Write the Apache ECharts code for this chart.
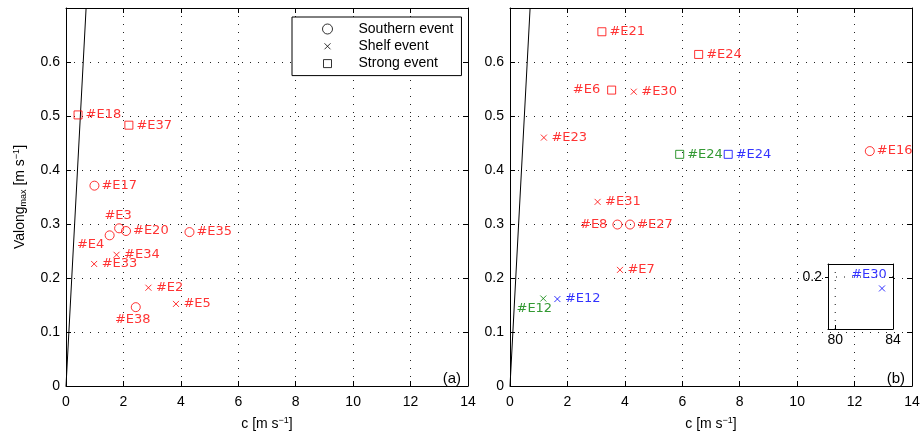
<!DOCTYPE html>
<html>
<head>
<meta charset="utf-8">
<script src="https://cdn.jsdelivr.net/npm/echarts@6/dist/echarts.min.js"></script>
<style>
  html, body { margin: 0; padding: 0; background: #fff; }
  #chart { width: 920px; height: 433px; }
</style>
</head>
<body>
<div id="chart"></div>
<script>
// ---- Panel (a): phase speed c vs. peak along-shore velocity ----
const aNames = ['#E18', '#E37', '#E17', '#E3', '#E4', '#E20', '#E35', '#E34', '#E33', '#E2', '#E5', '#E38'];
const aC     = [0.42, 2.19, 0.99, 1.85, 1.52, 2.09, 4.30, 1.76, 0.98, 2.87, 3.83, 2.43];
const aV     = [0.502, 0.483, 0.371, 0.292, 0.279, 0.287, 0.285, 0.243, 0.226, 0.182, 0.152, 0.146];
const aKind  = ['strong', 'strong', 'southern', 'southern', 'southern', 'southern', 'southern',
                'shelf', 'shelf', 'shelf', 'shelf', 'southern'];
const aSet   = ['r', 'r', 'r', 'r', 'r', 'r', 'r', 'r', 'r', 'r', 'r', 'r'];

// ---- Panel (b) ----
const bNames = ['#E21', '#E24', '#E6', '#E30', '#E23', '#E16', '#E31', '#E8', '#E27', '#E7',
                '#E24', '#E12', '#E24', '#E12'];
const bC     = [3.20, 6.57, 3.54, 4.31, 1.18, 12.53, 3.05, 3.74, 4.18, 3.83, 5.91, 1.16, 7.60, 1.65];
const bV     = [0.656, 0.614, 0.548, 0.545, 0.460, 0.435, 0.341, 0.299, 0.299, 0.215,
                0.429, 0.162, 0.429, 0.161];
const bKind  = ['strong', 'strong', 'strong', 'shelf', 'shelf', 'southern', 'shelf', 'southern',
                'southern', 'shelf', 'strong', 'shelf', 'strong', 'shelf'];
const bSet   = ['r', 'r', 'r', 'r', 'r', 'r', 'r', 'r', 'r', 'r', 'g', 'g', 'b', 'b'];

// ---- Inset of panel (b): the off-scale event ----
const insetNames = ['#E30'];
const insetC     = [83.24];
const insetV     = [0.178];
const insetKind  = ['shelf'];
const insetSet   = ['b'];
const insetCRange = [79.5, 84];
const insetVRange = [0.1, 0.225];
const insetXTicks = [80, 84];
const insetYTicks = [0.2];

// ---- Reference line V = c ----
const refC = [0, 0.7];
const refV = [0, 0.7];

// ---- Axis settings ----
const cMin = 0, cMax = 14, cStep = 2;
const vMin = 0, vMax = 0.7, vStep = 0.1;

// ---- Styling ----
const SET_COLOR = { r: '#ff0000', g: '#008000', b: '#0000ff' };
const CROSS = 'path://M0,0M2,2L8,8M8,2L2,8M10,10';
const SQUARE = 'path://M0,0M1,1H9V9H1ZM10,10';
const KIND = {
  southern: { name: 'Southern event', symbol: 'circle', size: 9 },
  shelf:    { name: 'Shelf event',    symbol: CROSS,    size: 10 },
  strong:   { name: 'Strong event',   symbol: SQUARE,   size: 10 }
};
const TICK_FONT = 'Liberation Sans, Arial, sans-serif';
const LABEL_FONT = 'DejaVu Sans, sans-serif';
const INSET_LAYER = 1;
const DOTS = { color: '#222', width: 1, type: [1, 7] };

// label placement tweaks (panel + name + colour set)
const LABEL_TWEAK = {
  'a#E3r':  { position: 'inside', offset: [-1, -13] },
  'a#E4r':  { position: 'inside', offset: [-19, 9] },
  'a#E38r': { position: 'inside', offset: [-3, 12] },
  'b#E6r':  { position: 'left', distance: 6 },
  'b#E8r':  { position: 'left', distance: 5 },
  'b#E12g': { position: 'inside', offset: [-9, 10] },
  'i#E30b': { position: 'inside', offset: [-13, -14] }
};

function pointSeries(panel, names, c, v, kinds, sets, kind, xi, yi, layer) {
  const data = [];
  for (let i = 0; i < names.length; i++) {
    if (kinds[i] !== kind) continue;
    const col = SET_COLOR[sets[i]];
    const tweak = LABEL_TWEAK[panel + names[i] + sets[i]] || {};
    data.push({
      name: names[i],
      value: [c[i], v[i]],
      itemStyle: { color: 'transparent', borderColor: col, borderWidth: 1 },
      label: Object.assign({ position: 'right', distance: 2, offset: [0, 0], color: col }, tweak)
    });
  }
  return {
    type: 'scatter',
    name: KIND[kind].name,
    xAxisIndex: xi,
    yAxisIndex: yi,
    symbol: KIND[kind].symbol,
    symbolSize: KIND[kind].size,
    zlevel: layer || 0,
    z: 3,
    silent: true,
    clip: false,
    data: data,
    label: {
      show: true,
      formatter: '{b}',
      fontFamily: LABEL_FONT,
      fontSize: 13
    }
  };
}

const nameRich = {
  t:   { fontFamily: TICK_FONT, fontSize: 14, color: '#000', lineHeight: 16, verticalAlign: 'middle' },
  sub: { fontFamily: TICK_FONT, fontSize: 9, color: '#000', lineHeight: 9, padding: [9, 0, 0, 0], verticalAlign: 'bottom' },
  sup: { fontFamily: TICK_FONT, fontSize: 9, color: '#000', lineHeight: 9, padding: [0, 0, 9, 0], verticalAlign: 'top' }
};

const grids = [
  { left: 66, top: 8, width: 402, height: 378, outerBoundsMode: 'none', containLabel: false },
  { left: 510, top: 8, width: 402, height: 378, outerBoundsMode: 'none', containLabel: false },
  { left: 828, top: 264, width: 65, height: 65, outerBoundsMode: 'none', containLabel: false,
    show: true, backgroundColor: '#fff', borderColor: 'transparent', zlevel: INSET_LAYER, z: 0 }
];

const axisLine = { show: true, onZero: false, lineStyle: { color: '#000', width: 1 } };
const tickIn = { show: true, inside: true, length: 5, lineStyle: { color: '#000' } };
const tickLabel = { color: '#000', fontFamily: TICK_FONT, fontSize: 14 };
const dotted = { show: true, lineStyle: DOTS };

const xAxes = [], yAxes = [];
[0, 1].forEach(function (g) {
  xAxes.push({
    gridIndex: g, type: 'value', min: cMin, max: cMax, interval: cStep, position: 'bottom',
    axisLine: axisLine, axisTick: tickIn,
    axisLabel: Object.assign({ margin: 9 }, tickLabel),
    splitLine: dotted,
    name: '{t|c [m s}{sup|−1}{t|]}', nameLocation: 'middle', nameGap: 30,
    nameTextStyle: { rich: nameRich }
  });
  xAxes.push({
    gridIndex: g, type: 'value', min: cMin, max: cMax, interval: cStep, position: 'top',
    axisLine: axisLine, axisTick: tickIn, axisLabel: { show: false }, splitLine: { show: false }
  });
  yAxes.push({
    gridIndex: g, type: 'value', min: vMin, max: vMax, interval: vStep, position: 'left',
    axisLine: axisLine, axisTick: tickIn,
    axisLabel: Object.assign({ margin: 6, showMaxLabel: false }, tickLabel),
    splitLine: dotted,
    name: g === 0 ? '{t|Valong}{sub|max}{t| [m s}{sup|−1}{t|]}' : '',
    nameLocation: 'middle', nameGap: 38, nameRotate: 90,
    nameTextStyle: { rich: nameRich }
  });
  yAxes.push({
    gridIndex: g, type: 'value', min: vMin, max: vMax, interval: vStep, position: 'right',
    axisLine: axisLine, axisTick: tickIn, axisLabel: { show: false }, splitLine: { show: false }
  });
});

// inset axes (x: 4,5 / y: 4,5); ticks and labels at the listed values
xAxes.push({
  gridIndex: 2, type: 'value', min: insetCRange[0], max: insetCRange[1], position: 'bottom',
  zlevel: INSET_LAYER, z: 2,
  axisLine: axisLine,
  axisTick: { show: true, inside: true, length: 4, lineStyle: { color: '#000' }, customValues: insetXTicks },
  axisLabel: Object.assign({ margin: 4, customValues: insetXTicks }, tickLabel),
  splitLine: { show: false }
});
xAxes.push({
  gridIndex: 2, type: 'value', min: insetCRange[0], max: insetCRange[1], position: 'top',
  zlevel: INSET_LAYER, z: 2,
  axisLine: axisLine, axisTick: { show: false }, axisLabel: { show: false }, splitLine: { show: false }
});
yAxes.push({
  gridIndex: 2, type: 'value', min: insetVRange[0], max: insetVRange[1], position: 'left',
  zlevel: INSET_LAYER, z: 2,
  axisLine: axisLine,
  axisTick: { show: true, inside: false, length: 3, lineStyle: { color: '#000' }, customValues: insetYTicks },
  axisLabel: Object.assign({ margin: 6, customValues: insetYTicks }, tickLabel),
  splitLine: { show: false }
});
yAxes.push({
  gridIndex: 2, type: 'value', min: insetVRange[0], max: insetVRange[1], position: 'right',
  zlevel: INSET_LAYER, z: 2,
  axisLine: axisLine,
  axisTick: { show: true, inside: true, length: 4, lineStyle: { color: '#000' }, customValues: insetYTicks },
  axisLabel: { show: false }, splitLine: { show: false }
});

function refLine(xi, yi) {
  return {
    type: 'line', xAxisIndex: xi, yAxisIndex: yi, silent: true, symbol: 'none',
    lineStyle: { color: '#000', width: 1 },
    data: refC.map(function (c, i) { return [c, refV[i]]; }),
    z: 2
  };
}

// dotted inset grid lines through the inset axes at its inner tick values
function insetGridLine(points) {
  return {
    type: 'line', xAxisIndex: 4, yAxisIndex: 4, silent: true, symbol: 'none',
    zlevel: INSET_LAYER, z: 1, lineStyle: { color: '#111', width: 1, type: [1, 7] },
    data: points
  };
}
function insetGridLines() {
  const out = [];
  insetXTicks.filter(function (t) { return t < insetCRange[1]; }).forEach(function (t) {
    out.push(insetGridLine([[t, insetVRange[0]], [t, insetVRange[1]]]));
  });
  insetYTicks.filter(function (t) { return t < insetVRange[1]; }).forEach(function (t) {
    out.push(insetGridLine([[insetCRange[0], t], [insetCRange[1], t]]));
  });
  return out;
}

const series = [
  refLine(0, 0),
  refLine(2, 2),
  pointSeries('a', aNames, aC, aV, aKind, aSet, 'southern', 0, 0),
  pointSeries('a', aNames, aC, aV, aKind, aSet, 'shelf', 0, 0),
  pointSeries('a', aNames, aC, aV, aKind, aSet, 'strong', 0, 0),
  pointSeries('b', bNames, bC, bV, bKind, bSet, 'southern', 2, 2),
  pointSeries('b', bNames, bC, bV, bKind, bSet, 'shelf', 2, 2),
  pointSeries('b', bNames, bC, bV, bKind, bSet, 'strong', 2, 2),
  pointSeries('i', insetNames, insetC, insetV, insetKind, insetSet, 'shelf', 4, 4, INSET_LAYER)
].concat(insetGridLines());

const legendIcon = { color: 'transparent', borderColor: '#000', borderWidth: 1 };

const option = {
  backgroundColor: '#fff',
  animation: false,
  grid: grids,
  xAxis: xAxes,
  yAxis: yAxes,
  series: series,
  legend: {
    orient: 'vertical', left: 292, top: 17,
    itemWidth: 10, itemHeight: 10, itemGap: 1.3,
    padding: [4, 8, 4, 30],
    backgroundColor: '#fff', borderColor: '#000', borderWidth: 1,
    selectedMode: false,
    textStyle: { fontFamily: TICK_FONT, fontSize: 14, color: '#000', lineHeight: 16, padding: [0, 0, 0, 21] },
    data: [
      { name: 'Southern event', icon: 'circle', itemStyle: legendIcon },
      { name: 'Shelf event', icon: CROSS, itemStyle: legendIcon },
      { name: 'Strong event', icon: SQUARE, itemStyle: legendIcon }
    ]
  },
  title: [
    { text: '(a)', right: 459, top: 371, padding: 0,
      textStyle: { fontFamily: TICK_FONT, fontSize: 15, fontWeight: 'normal', color: '#000' } },
    { text: '(b)', right: 15, top: 371, padding: 0,
      textStyle: { fontFamily: TICK_FONT, fontSize: 15, fontWeight: 'normal', color: '#000' } }
  ]
};

const chart = echarts.init(document.getElementById('chart'), null, { renderer: 'canvas' });
chart.setOption(option);
</script>
</body>
</html>
